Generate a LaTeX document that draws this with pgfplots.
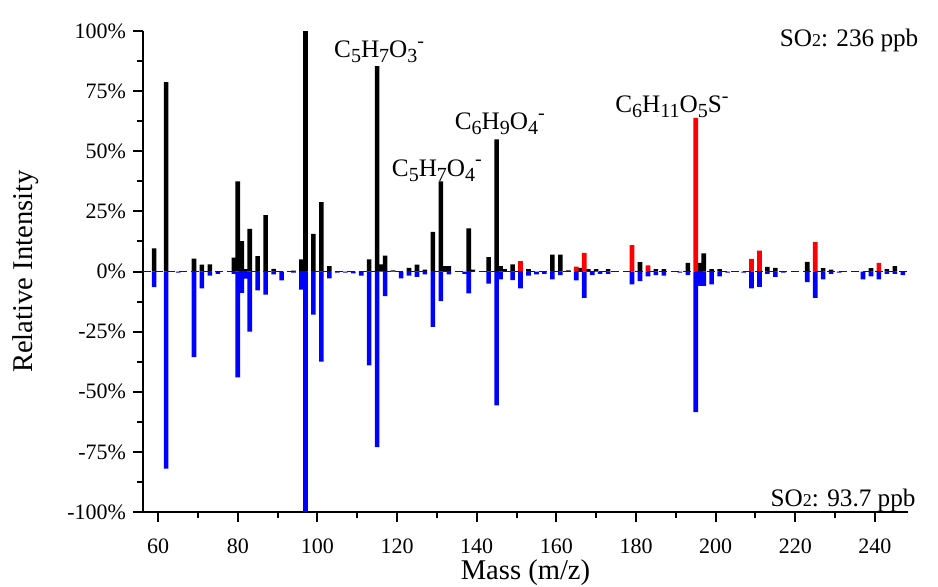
\documentclass[border=0pt]{standalone}
\usepackage{pgfplots}
\pgfplotsset{compat=1.18}
\usepackage{fontspec}
\setmainfont{Liberation Serif}
\usetikzlibrary{calc}

\definecolor{pblue}{RGB}{0,0,255}
\definecolor{pred}{RGB}{255,0,0}

\newcommand{\ann}[1]{\fontsize{12.6}{15}\selectfont #1}
\newcommand{\lo}[1]{\raisebox{-0.45ex}{\fontsize{10}{11}\selectfont #1}}
\newcommand{\hi}[1]{\raisebox{0.9ex}{\fontsize{10}{11}\selectfont #1}}

\begin{document}
\begin{tikzpicture}
\begin{axis}[name=ax,
    width=382.5pt, height=240.5pt, scale only axis,
    xmin=56.2, xmax=248.3, ymin=-100, ymax=100,
    axis x line*=bottom, axis y line*=left,
    axis line style={line width=1pt},
    tick align=outside,
    major tick length=5pt, minor tick length=3pt,
    every tick/.style={black, line width=1pt},
    xtick={60,80,...,240}, minor x tick num=1,
    ytick={-100,-75,...,100}, minor y tick num=1,
    yticklabels={-100\%,-75\%,-50\%,-25\%,0\%,25\%,50\%,75\%,100\%},
    /pgf/number format/assume math mode=true,
    tick label style={font=\fontsize{11}{13}\selectfont},
    xticklabel style={yshift=-5pt},
    xlabel={Mass (m/z)}, ylabel={Relative Intensity},
    every axis y label/.style={at={(axis description cs:-0.153,0.5)}, rotate=90, anchor=center, font=\fontsize{14.3}{16}\selectfont},
    every axis x label/.style={at={(axis description cs:0.5,-0.127)}, anchor=center, font=\fontsize{14.3}{16}\selectfont},
    clip=false,
]

% SO2 236 ppb, unassigned ions
\addplot[ybar, bar width=1.15, bar shift=0pt, fill=black, draw=none] coordinates {
(59,9.6) (62,78.7) (69,5.4) (71,2.9) (73,3) (79,5.8) (80,37.5) (81,12.6) (82,1)
(83,17.7) (85,6.4) (87,23.4) (89,1.1) (94,0.4) (96,5) (97,100) (99,15.7) (101,28.8)
(103,2.2) (113,5) (115,85.4) (116,3) (117,6.6) (119,0.5) (123,1.5) (125,2.9) (127,0.8)
(129,16.5) (131,37.5) (132,2.2) (133,2.2) (138,17.9) (139,0.8) (143,6) (145,54.9)
(146,2.2) (147,1) (149,3) (153,1) (159,7) (161,7) (163,0.5) (166,1.5) (168,1) (170,1)
(173,1) (181,3.9) (185,1) (187,1) (193,3.6) (196,3.6) (197,7.5) (199,1) (201,1)
(213,1.9) (215,1.5) (223,4) (227,1.4) (229,0.8) (239,1.4) (243,1) (245,2.2)
};

% SO2 236 ppb, sulfur containing ions
\addplot[ybar, bar width=1.15, bar shift=0pt, fill=pred, draw=none] coordinates {
(151,4.3) (165,2) (167,7.8) (179,11) (183,2.5) (195,63.9) (209,5.3) (211,8.7)
(225,12.2) (241,3.6)
};

% SO2 93.7 ppb (mirrored)
\addplot[ybar, bar width=1.15, bar shift=0pt, fill=pblue, draw=none] coordinates {
(59,-6.5) (62,-82) (65,-0.5) (69,-35.6) (71,-7) (73,-1.7) (75,-1) (79,-1) (80,-44)
(81,-8.9) (82,-3) (83,-25) (85,-7.8) (87,-9.6) (89,-1.2) (91,-3.7) (94,-0.5) (96,-7.5)
(97,-100) (99,-17.9) (101,-37.5) (103,-2.9) (105,-0.5) (107,-0.5) (109,-0.8) (111,-1.7)
(113,-39) (115,-73) (117,-10.2) (121,-2.9) (123,-1.7) (125,-2.2) (127,-1.2) (129,-23)
(131,-12.3) (133,-1.2) (137,-1) (138,-9.1) (143,-5) (145,-55.7) (146,-3.3) (149,-3.6)
(151,-7) (153,-1.7) (155,-1.2) (157,-1) (159,-3.3) (161,-1.5) (165,-3.7) (167,-11)
(169,-1.5) (171,-1) (173,-1) (179,-5.4) (181,-4) (183,-2) (185,-1.5) (187,-1.7)
(191,-0.5) (193,-1.5) (195,-58.5) (196,-6) (197,-6) (199,-5.4) (201,-2) (203,-0.5)
(207,-0.5) (209,-7) (211,-6.4) (213,-1) (215,-2.2) (217,-0.5) (223,-4.4) (225,-11)
(227,-3.3) (229,-1) (231,-0.5) (237,-3.3) (239,-2) (241,-3.3) (243,-1) (245,-1)
(247,-1.5)
};

% zero line
\addplot[pblue, line width=0.6pt, dash pattern=on 4pt off 2pt] coordinates {(56.2,0) (248.3,0)};

\node[anchor=base] at (axis cs:115.5,89) {\ann{C\lo{5}H\lo{7}O\lo{3}\hi{-}}};
\node[anchor=base] at (axis cs:130,39.6) {\ann{C\lo{5}H\lo{7}O\lo{4}\hi{-}}};
\node[anchor=base] at (axis cs:145.8,59) {\ann{C\lo{6}H\lo{9}O\lo{4}\hi{-}}};
\node[anchor=base] at (axis cs:189,66) {\ann{C\lo{6}H\lo{11}O\lo{5}S\hi{-}}};
\node[anchor=base] at (axis cs:233.5,93.4) {\ann{SO{\fontsize{9}{10}\selectfont 2}: 236 ppb}};
\node[anchor=base] at (axis cs:232,-97.5) {\ann{SO{\fontsize{9}{10}\selectfont 2}: 93.7 ppb}};
\end{axis}
\pgfresetboundingbox
\path ($(ax.south west)+(-71.5pt,-37pt)$) rectangle ($(ax.north east)+(15pt,15.5pt)$);
\end{tikzpicture}
\end{document}
